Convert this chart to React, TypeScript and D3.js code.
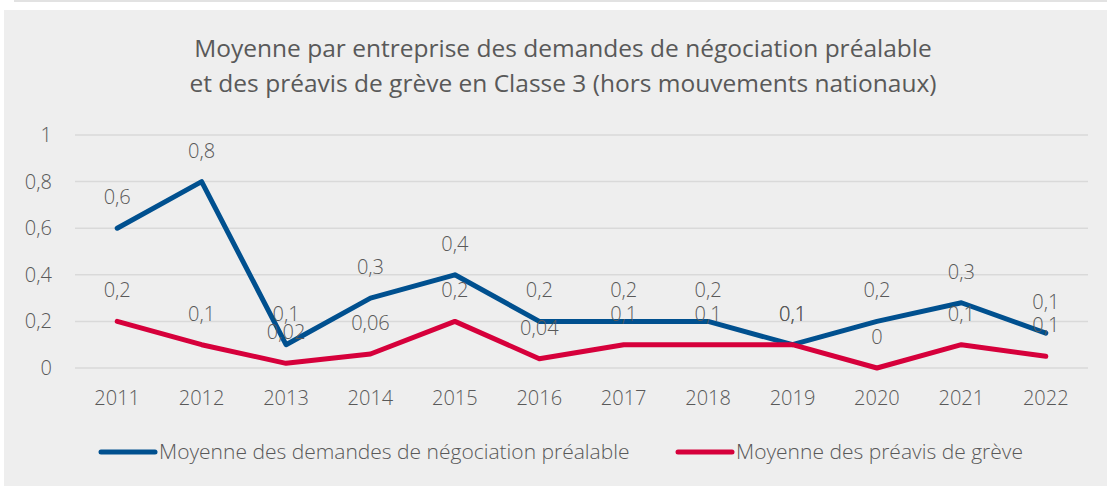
import React from "react";
import * as d3 from "d3";

const years = ["2011", "2012", "2013", "2014", "2015", "2016", "2017", "2018", "2019", "2020", "2021", "2022"];
const demandes = [0.6, 0.8, 0.1, 0.3, 0.4, 0.2, 0.2, 0.2, 0.1, 0.2, 0.28, 0.15];
const demandesLabels = ["0,6", "0,8", "0,1", "0,3", "0,4", "0,2", "0,2", "0,2", "0,1", "0,2", "0,3", "0,1"];
const preavis = [0.2, 0.1, 0.02, 0.06, 0.2, 0.04, 0.1, 0.1, 0.1, 0, 0.1, 0.05];
const preavisLabels = ["0,2", "0,1", "0,02", "0,06", "0,2", "0,04", "0,1", "0,1", "0,1", "0", "0,1", "0,1"];
const yTicks = [0, 0.2, 0.4, 0.6, 0.8, 1];
const yTickLabels = ["0", "0,2", "0,4", "0,6", "0,8", "1"];
const titleLines = [
  "Moyenne par entreprise des demandes de négociation préalable",
  "et des préavis de grève en Classe 3 (hors mouvements nationaux)",
];
const seriesNames = ["Moyenne des demandes de négociation préalable", "Moyenne des préavis de grève"];

const W = 1107;
const H = 486;
const BLUE = "#00508f";
const RED = "#d6003b";
const TXT = "#595959";
const FONT = "'Open Sans', 'Noto Sans', sans-serif";
const FS = 20;

export default function App() {
  const x = d3.scalePoint<string>().domain(years).range([75, 1088]).padding(0.5);
  const y = d3.scaleLinear().domain([0, 1]).range([368, 135]);

  const line = d3
    .line<number>()
    .x((_, i) => x(years[i]) as number)
    .y((d) => y(d));

  const series = [
    { vals: demandes, labels: demandesLabels, color: BLUE },
    { vals: preavis, labels: preavisLabels, color: RED },
  ];

  return (
    <svg
      width={W}
      height={H}
      style={{ position: "absolute", left: 0, top: 0, fontFamily: FONT }}
    >
      <rect x={0} y={0} width={W} height={H} fill="#ffffff" />
      <rect x={14} y={0} width={W - 14} height={2} fill="#e2e2e2" />
      <rect x={4} y={10} width={W - 4} height={H - 10} fill="#eeeeee" />

      {/* titre */}
      {titleLines.map((t, i) => (
        <text key={i} x={563} y={57 + i * 35} textAnchor="middle" fontSize={24.5} fill={TXT}>
          {t}
        </text>
      ))}

      {/* grille + axe Y */}
      {yTicks.map((t, i) => (
        <g key={t}>
          <line x1={75} x2={1088} y1={y(t)} y2={y(t)} stroke="#d9d9d9" strokeWidth={1.5} />
          <text x={52} y={y(t)} dy="0.35em" textAnchor="end" fontSize={FS} fontWeight={300} fill={TXT}>
            {yTickLabels[i]}
          </text>
        </g>
      ))}

      {/* axe X */}
      {years.map((yr) => (
        <text key={yr} x={x(yr)} y={405} textAnchor="middle" fontSize={FS} fontWeight={300} fill={TXT}>
          {yr}
        </text>
      ))}

      {/* séries */}
      {series.map((s, k) => (
        <path
          key={k}
          d={line(s.vals) ?? ""}
          fill="none"
          stroke={s.color}
          strokeWidth={5}
          strokeLinejoin="round"
          strokeLinecap="round"
        />
      ))}

      {/* étiquettes de données */}
      {series.map((s, k) =>
        s.vals.map((v, i) => (
          <text
            key={`${k}-${i}`}
            x={x(years[i])}
            y={y(v) - 24}
            textAnchor="middle"
            fontSize={FS}
            fontWeight={300}
            fill={TXT}
          >
            {s.labels[i]}
          </text>
        ))
      )}

      {/* légende */}
      {[
        { x0: 101, color: BLUE, name: seriesNames[0] },
        { x0: 678, color: RED, name: seriesNames[1] },
      ].map((l) => (
        <g key={l.name}>
          <line x1={l.x0} x2={l.x0 + 54} y1={452} y2={452} stroke={l.color} strokeWidth={5} strokeLinecap="round" />
          <text x={l.x0 + 58} y={452} dy="0.35em" fontSize={21} fontWeight={300} fill={TXT}>
            {l.name}
          </text>
        </g>
      ))}
    </svg>
  );
}
